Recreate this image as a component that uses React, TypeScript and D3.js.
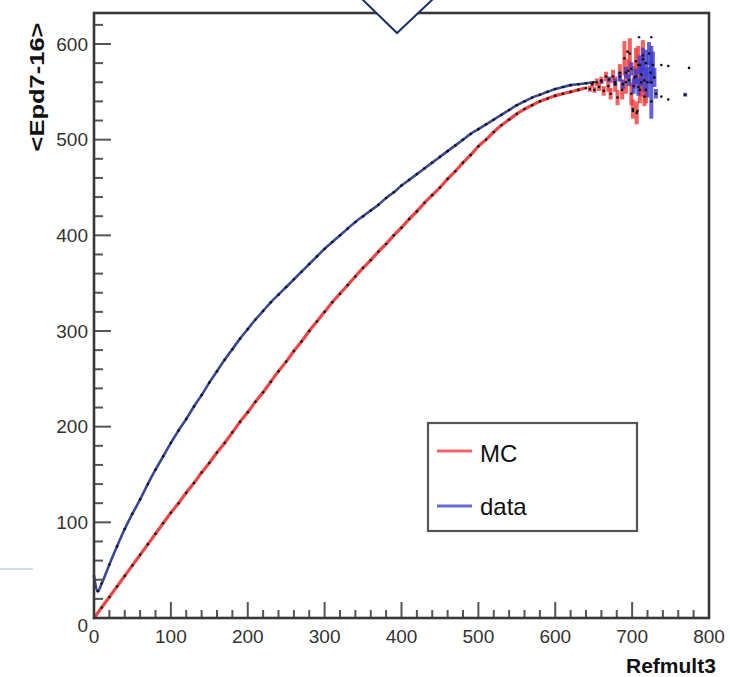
import React from "react";
import * as d3 from "d3";

// ---------- data ----------
const mcSmooth: [number, number][] = [
  [0, 0], [10, 11], [20, 22], [30, 33], [40, 44], [50, 55], [60, 66], [70, 77], [80, 88], [90, 99],
  [100, 110], [110, 120], [120, 131], [130, 141], [140, 152], [150, 162], [160, 173], [170, 183], [180, 194], [190, 205],
  [200, 215], [210, 226], [220, 236], [230, 247], [240, 258], [250, 268], [260, 279], [270, 289], [280, 300], [290, 310],
  [300, 320], [310, 330], [320, 339], [330, 348], [340, 357], [350, 366], [360, 374], [370, 383], [380, 391], [390, 400],
  [400, 408], [410, 417], [420, 425], [430, 434], [440, 442], [450, 450], [460, 459], [470, 467], [480, 476], [490, 484],
  [500, 493], [510, 500], [520, 508], [530, 515], [540, 521], [550, 527], [560, 532], [570, 536], [580, 540], [590, 543],
  [600, 546], [610, 548], [620, 550], [630, 552], [640, 554],
];

const dataSmooth: [number, number][] = [
  [0, 44], [5, 28], [10, 36], [20, 56], [30, 75], [40, 93], [50, 109], [60, 124], [70, 140], [80, 155], [90, 169],
  [100, 183], [110, 196], [120, 208], [130, 221], [140, 233], [150, 246], [160, 258], [170, 270], [180, 281], [190, 292],
  [200, 302], [210, 312], [220, 321], [230, 330], [240, 338], [250, 346], [260, 354], [270, 362], [280, 370], [290, 378],
  [300, 386], [310, 393], [320, 400], [330, 407], [340, 414], [350, 420], [360, 426], [370, 432], [380, 439], [390, 445],
  [400, 452], [410, 458], [420, 464], [430, 470], [440, 476], [450, 482], [460, 488], [470, 494], [480, 500], [490, 506],
  [500, 511], [510, 516], [520, 521], [530, 526], [540, 531], [550, 536], [560, 540], [570, 544], [580, 547], [590, 550],
  [600, 553], [610, 555], [620, 557], [630, 558], [640, 559], [650, 560],
];

// noisy tail: [x, y, err]
const mcTail: [number, number, number][] = [
  [645, 553, 3], [648, 558, 3], [651, 552, 3], [654, 560, 4], [657, 555, 4], [660, 562, 4], [663, 551, 5],
  [666, 566, 5], [669, 556, 6], [672, 548, 6], [675, 566, 7], [678, 558, 8], [681, 544, 8], [684, 570, 9],
  [687, 552, 10], [690, 585, 18], [692, 560, 12], [695, 572, 12], [697, 590, 16], [699, 548, 12], [701, 532, 10],
  [703, 565, 12], [705, 582, 14], [706, 528, 12], [708, 578, 20], [710, 552, 14], [712, 560, 15], [714, 588, 16],
  [716, 545, 10], [718, 552, 14],
];
const dataTail: [number, number, number][] = [
  [660, 561, 2], [670, 563, 3], [678, 560, 4], [684, 566, 5], [688, 558, 5], [692, 570, 6], [696, 562, 6],
  [699, 574, 7], [702, 556, 8], [705, 566, 8], [708, 555, 9], [710, 578, 10], [712, 568, 12], [714, 584, 12],
  [716, 562, 12], [718, 580, 14], [720, 560, 16], [722, 590, 12], [724, 570, 12], [725, 560, 38], [727, 578, 14],
  [729, 565, 10], [731, 548, 5], [769, 547, 2],
];
const strayPoints: [number, number][] = [
  [709, 607], [725, 607], [738, 578], [747, 577], [774, 575], [738, 545], [747, 542], [725, 540], [701, 530], [707, 530], [694, 592],
];

const xMajor = [0, 100, 200, 300, 400, 500, 600, 700, 800];
const yMajor = [0, 100, 200, 300, 400, 500, 600];
const seriesNames = ["MC", "data"];

// ---------- layout ----------
const W = 730, H = 677;
const x = d3.scaleLinear().domain([0, 800]).range([94, 709]);
const y = d3.scaleLinear().domain([0, 600]).range([618, 44]);
const frameTop = 13;
const FONT = "'Liberation Sans', Arial, Helvetica, sans-serif";

const RED = "#ee2f2f";
const BLUE = "#23338c";
const RED_BAR = "#f03a3a";
const BLUE_BAR = "#3d3dd0";

export default function App() {
  const line = d3.line<[number, number]>().x((d) => x(d[0])).y((d) => y(d[1])).curve(d3.curveMonotoneX);
  const xMinor = d3.range(0, 801, 20).filter((v) => v % 100 !== 0);
  const yMinor = d3.range(0, y.invert(frameTop), 20).filter((v) => v % 100 !== 0);

  const tailBars = (arr: [number, number, number][], color: string) =>
    arr.map((d, i) => (
      <rect key={i} x={x(d[0]) - 2} width={4} y={y(d[1] + d[2])} height={Math.max(2, y(d[1] - d[2]) - y(d[1] + d[2]))}
        fill={color} opacity={0.8} />
    ));
  const dots = (arr: number[][]) =>
    arr.map((d, i) => <circle key={i} cx={x(d[0])} cy={y(d[1])} r={1.3} fill="#111" />);

  return (
    <svg width={W} height={H} style={{ position: "absolute", left: 0, top: 0, background: "#fff" }}
      fontFamily={FONT}>
      <rect width={W} height={H} fill="#fff" />
      {/* light blue stray line */}
      <line x1={0} x2={33} y1={569} y2={569} stroke="#9db8e6" strokeWidth={1.2} />

      {/* MC */}
      <path d={line(mcSmooth) || ""} fill="none" stroke={RED} strokeWidth={3.2} strokeOpacity={0.9} />
      {tailBars(mcTail, RED_BAR)}
      {/* data */}
      <path d={line(dataSmooth) || ""} fill="none" stroke={BLUE} strokeWidth={2.6} strokeOpacity={0.9} />
      {tailBars(dataTail, BLUE_BAR)}
      {dots(mcSmooth)}
      {dots(dataSmooth)}
      {dots(mcTail)}
      {dots(dataTail)}
      {dots(strayPoints)}

      {/* ticks */}
      {xMajor.map((v) => (
        <line key={"xM" + v} x1={x(v)} x2={x(v)} y1={618} y2={602} stroke="#555" strokeWidth={2} />
      ))}
      {xMinor.map((v) => (
        <line key={"xm" + v} x1={x(v)} x2={x(v)} y1={618} y2={610} stroke="#555" strokeWidth={2} />
      ))}
      {yMajor.map((v) => (
        <line key={"yM" + v} x1={94} x2={111} y1={y(v)} y2={y(v)} stroke="#555" strokeWidth={2} />
      ))}
      {yMinor.map((v) => (
        <line key={"ym" + v} x1={94} x2={103} y1={y(v)} y2={y(v)} stroke="#555" strokeWidth={2} />
      ))}

      {/* frame */}
      <rect x={94} y={frameTop} width={709 - 94} height={618 - frameTop} fill="none" stroke="#383838" strokeWidth={2.6} />

      {/* tick labels */}
      {xMajor.map((v) => (
        <text key={"xl" + v} x={x(v)} y={643} textAnchor="middle" fontSize={19} fill="#333">{v}</text>
      ))}
      {yMajor.map((v) => (
        <text key={"yl" + v} x={88} y={y(v) + (v === 0 ? 7 : 0)} dy="0.35em" textAnchor="end" fontSize={19} fill="#333">{v}</text>
      ))}

      {/* axis titles */}
      <text x={626} y={673} fontSize={21} fontWeight="bold" fill="#111">Refmult3</text>
      <text transform="translate(44,87) rotate(-90)" textAnchor="middle" fontSize={21} fontWeight="bold" fill="#111"
        textLength={129} lengthAdjust="spacingAndGlyphs">{"<Epd7-16>"}</text>

      {/* legend */}
      <rect x={428} y={423} width={209} height={108} fill="#fff" stroke="#555" strokeWidth={2.2} />
      <line x1={437} x2={472} y1={451} y2={451} stroke="#f06767" strokeWidth={3} />
      <text x={480} y={462} fontSize={24} fill="#111">{seriesNames[0]}</text>
      <line x1={437} x2={472} y1={506} y2={506} stroke="#6a6ad4" strokeWidth={3} />
      <text x={480} y={515} fontSize={24} fill="#111">{seriesNames[1]}</text>

      {/* chevron */}
      <path d="M362,-1 L397,33 L433,-1" fill="#fff" stroke="#1b2f6b" strokeWidth={2} />
    </svg>
  );
}
